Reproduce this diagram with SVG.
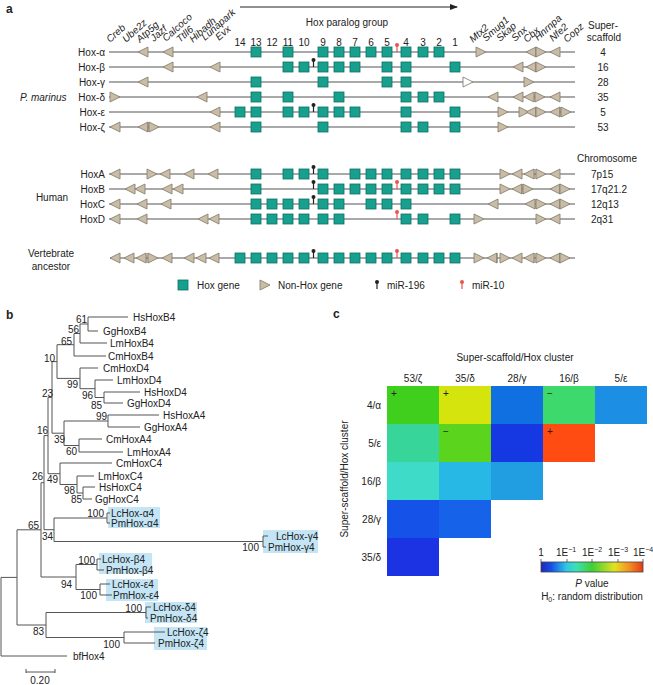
<svg xmlns="http://www.w3.org/2000/svg" xmlns:xlink="http://www.w3.org/1999/xlink" width="653" height="685" viewBox="0 0 653 685">
<style>
text{font-family:"Liberation Sans",Arial,sans-serif;font-size:10px;fill:#222}
.pl{font-weight:bold;font-size:12px}
.it{font-style:italic}
.gn{font-style:italic;font-size:10px}
.mid{text-anchor:middle}
.end{text-anchor:end}
.ln{stroke:#555;stroke-width:1.1;fill:none}
.ng{fill:#c9bda7;stroke:#8a8272;stroke-width:0.9}
.ngw{fill:#fff;stroke:#8a8272;stroke-width:0.9}
.hx{fill:#18a08f;stroke:#0e6f63;stroke-width:0.8}
.tk{stroke:#7a7368;stroke-width:0.8}
.br{stroke:#555;stroke-width:1;fill:none}
.hl{fill:#c3e5f5}
</style>
<defs>
<path id="tl" d="M-5,0 L5,-5 L5,5 Z" class="ng"/>
<path id="tr" d="M5,0 L-5,-5 L-5,5 Z" class="ng"/>
<path id="tw" d="M5,0 L-5,-5 L-5,5 Z" class="ngw"/>
<rect id="hx" x="-5" y="-5" width="10" height="10" class="hx"/>
<line id="tk" x1="0" y1="-5" x2="0" y2="5" class="tk"/>
<g id="m196"><line x1="0" y1="0" x2="0" y2="-6" stroke="#222" stroke-width="1.2"/><circle cx="0" cy="-7" r="2" fill="#222"/></g>
<g id="m10"><line x1="0" y1="0" x2="0" y2="-6" stroke="#e8554e" stroke-width="1.2"/><circle cx="0" cy="-7" r="2" fill="#e8554e"/></g>
<marker id="ah" markerWidth="8" markerHeight="8" refX="7" refY="4" orient="auto" markerUnits="userSpaceOnUse"><path d="M0,1 L8,4 L0,7 Z" fill="#222"/></marker>
<linearGradient id="jet" x1="0" x2="1" y1="0" y2="0">
<stop offset="0" stop-color="#2424b8"/><stop offset="0.1" stop-color="#1450e6"/><stop offset="0.25" stop-color="#30c8e6"/><stop offset="0.35" stop-color="#3ee0b0"/><stop offset="0.5" stop-color="#3ecf35"/><stop offset="0.72" stop-color="#e2e221"/><stop offset="0.86" stop-color="#f29322"/><stop offset="1" stop-color="#e63a18"/>
</linearGradient>
</defs>

<!-- ===== Panel a ===== -->
<text class="pl" x="6" y="13">a</text>
<g id="paralog-axis">
<line x1="240" y1="7" x2="457" y2="7" stroke="#222" stroke-width="1" marker-end="url(#ah)"/>
<text class="mid" x="347" y="26">Hox paralog group</text>
<text class="mid" x="240" y="46">14</text><text class="mid" x="256" y="46">13</text><text class="mid" x="272" y="46">12</text><text class="mid" x="288" y="46">11</text><text class="mid" x="304" y="46">10</text><text class="mid" x="323" y="46">9</text><text class="mid" x="339" y="46">8</text><text class="mid" x="355" y="46">7</text><text class="mid" x="371" y="46">6</text><text class="mid" x="387" y="46">5</text><text class="mid" x="406" y="46">4</text><text class="mid" x="423" y="46">3</text><text class="mid" x="439" y="46">2</text><text class="mid" x="455" y="46">1</text>
</g>
<g id="gene-names">
<text class="gn" transform="translate(110,43) rotate(-42)">Creb</text>
<text class="gn" transform="translate(126,43) rotate(-42)">Ube2z</text>
<text class="gn" transform="translate(140,43) rotate(-42)">Atp5g</text>
<text class="gn" transform="translate(154,42) rotate(-42)">Jazf</text>
<text class="gn" transform="translate(166,42) rotate(-42)">Calcoco</text>
<text class="gn" transform="translate(180,43) rotate(-42)">Ttll6</text>
<text class="gn" transform="translate(193,43) rotate(-42)">Hibadh</text>
<text class="gn" transform="translate(205,41) rotate(-42)">Lunapark</text>
<text class="gn" transform="translate(219,41) rotate(-42)">Evx</text>
<text class="gn" transform="translate(473,43) rotate(-42)">Mtx2</text>
<text class="gn" transform="translate(486,42) rotate(-42)">Smug1</text>
<text class="gn" transform="translate(500,42) rotate(-42)">Skap</text>
<text class="gn" transform="translate(515,42) rotate(-42)">Snx</text>
<text class="gn" transform="translate(527,43) rotate(-42)">Cbx</text>
<text class="gn" transform="translate(538,41) rotate(-42)">Hnrnpa</text>
<text class="gn" transform="translate(553,42) rotate(-42)">Nfe2</text>
<text class="gn" transform="translate(567,43) rotate(-42)">Copz</text>
<text class="mid" x="603" y="29">Super-</text>
<text class="mid" x="604" y="41">scaffold</text>
</g>
<text class="it" x="20" y="101" font-size="11">P. marinus</text>

<g id="row-hox-alpha">
<text class="end" x="105" y="56">Hox-α</text>
<line x1="109" y1="52" x2="575" y2="52" class="ln"/>
<use href="#tl" x="143" y="52"/><use href="#tl" x="168" y="52"/>
<use href="#hx" x="256" y="52"/><use href="#hx" x="288" y="52"/><use href="#hx" x="323" y="52"/><use href="#hx" x="339" y="52"/><use href="#hx" x="355" y="52"/><use href="#hx" x="371" y="52"/><use href="#hx" x="387" y="52"/><use href="#hx" x="406" y="52"/><use href="#hx" x="423" y="52"/><use href="#hx" x="439" y="52"/>
<use href="#m10" x="397" y="52"/>
<use href="#tr" x="481" y="52"/><use href="#tl" x="531" y="52"/><use href="#tk" x="536" y="52"/><use href="#tr" x="541" y="52"/><use href="#tl" x="555" y="52"/>
<text class="mid" x="603" y="56">4</text>
</g>
<g id="row-hox-beta">
<text class="end" x="105" y="71">Hox-β</text>
<line x1="109" y1="67" x2="575" y2="67" class="ln"/>
<use href="#tl" x="168" y="67"/><use href="#tl" x="215" y="67"/>
<use href="#hx" x="288" y="67"/><use href="#hx" x="304" y="67"/><use href="#hx" x="323" y="67"/><use href="#hx" x="339" y="67"/><use href="#hx" x="355" y="67"/><use href="#hx" x="387" y="67"/><use href="#hx" x="406" y="67"/><use href="#hx" x="455" y="67"/>
<use href="#m196" x="313.5" y="67"/>
<use href="#tl" x="518" y="67"/><use href="#tl" x="531" y="67"/><use href="#tk" x="536" y="67"/><use href="#tr" x="541" y="67"/>
<text class="mid" x="603" y="71">16</text>
</g>
<g id="row-hox-gamma">
<text class="end" x="105" y="86">Hox-γ</text>
<line x1="109" y1="82" x2="575" y2="82" class="ln"/>
<use href="#tl" x="143" y="82"/>
<use href="#hx" x="256" y="82"/><use href="#hx" x="323" y="82"/><use href="#hx" x="387" y="82"/><use href="#hx" x="406" y="82"/>
<use href="#tw" x="468" y="82"/><use href="#tr" x="529" y="82"/>
<text class="mid" x="603" y="86">28</text>
</g>
<g id="row-hox-delta">
<text class="end" x="105" y="101">Hox-δ</text>
<line x1="109" y1="97" x2="575" y2="97" class="ln"/>
<use href="#tr" x="115" y="97"/><use href="#tl" x="202" y="97"/>
<use href="#hx" x="256" y="97"/><use href="#hx" x="288" y="97"/><use href="#hx" x="339" y="97"/><use href="#hx" x="406" y="97"/><use href="#hx" x="423" y="97"/><use href="#hx" x="439" y="97"/>
<use href="#tl" x="493" y="97"/><use href="#tl" x="518" y="97"/><use href="#tl" x="529" y="97"/><use href="#tk" x="535" y="97"/><use href="#tr" x="540" y="97"/><use href="#tl" x="555" y="97"/>
<text class="mid" x="603" y="101">35</text>
</g>
<g id="row-hox-epsilon">
<text class="end" x="105" y="116">Hox-ε</text>
<line x1="109" y1="112" x2="575" y2="112" class="ln"/>
<use href="#tl" x="215" y="112"/>
<use href="#hx" x="240" y="112"/><use href="#hx" x="256" y="112"/><use href="#hx" x="288" y="112"/><use href="#hx" x="304" y="112"/><use href="#hx" x="323" y="112"/><use href="#hx" x="339" y="112"/><use href="#hx" x="355" y="112"/><use href="#hx" x="406" y="112"/><use href="#hx" x="455" y="112"/>
<use href="#m196" x="313.5" y="112"/>
<use href="#tr" x="503" y="112"/><use href="#tr" x="524" y="112"/><use href="#tl" x="531" y="112"/><use href="#tk" x="536" y="112"/><use href="#tr" x="541" y="112"/><use href="#tl" x="555" y="112"/><use href="#tk" x="560" y="112"/><use href="#tr" x="566" y="112"/>
<text class="mid" x="603" y="116">5</text>
</g>
<g id="row-hox-zeta">
<text class="end" x="105" y="131">Hox-ζ</text>
<line x1="109" y1="127" x2="575" y2="127" class="ln"/>
<use href="#tl" x="115" y="127"/><use href="#tl" x="143" y="127"/><use href="#tk" x="148" y="127"/><use href="#tr" x="154" y="127"/><use href="#tl" x="215" y="127"/>
<use href="#hx" x="256" y="127"/><use href="#hx" x="323" y="127"/><use href="#hx" x="406" y="127"/><use href="#hx" x="423" y="127"/><use href="#hx" x="455" y="127"/>
<use href="#tr" x="503" y="127"/>
<text class="mid" x="603" y="131">53</text>
</g>

<text class="mid" x="607" y="162">Chromosome</text>
<text class="mid" x="52" y="201" font-size="11">Human</text>
<g id="row-hoxa">
<text class="end" x="105" y="178">HoxA</text>
<line x1="109" y1="174" x2="575" y2="174" class="ln"/>
<use href="#tl" x="115" y="174"/><use href="#tr" x="152" y="174"/><use href="#tl" x="165" y="174"/><use href="#tl" x="189" y="174"/><use href="#tl" x="213" y="174"/>
<use href="#hx" x="256" y="174"/><use href="#hx" x="288" y="174"/><use href="#hx" x="304" y="174"/><use href="#hx" x="323" y="174"/><use href="#hx" x="355" y="174"/><use href="#hx" x="371" y="174"/><use href="#hx" x="387" y="174"/><use href="#hx" x="406" y="174"/><use href="#hx" x="423" y="174"/><use href="#hx" x="439" y="174"/><use href="#hx" x="455" y="174"/>
<use href="#m196" x="313.5" y="174"/>
<use href="#tr" x="505" y="174"/><use href="#tl" x="517" y="174"/><use href="#tl" x="529" y="174"/><use href="#tk" x="535" y="174"/><use href="#tr" x="541" y="174"/><use href="#tl" x="555" y="174"/>
<text x="591" y="178">7p15</text>
</g>
<g id="row-hoxb">
<text class="end" x="105" y="193">HoxB</text>
<line x1="109" y1="189" x2="575" y2="189" class="ln"/>
<use href="#tl" x="130" y="189"/><use href="#tl" x="140" y="189"/><use href="#tl" x="167" y="189"/><use href="#tl" x="178" y="189"/>
<use href="#hx" x="256" y="189"/><use href="#hx" x="323" y="189"/><use href="#hx" x="339" y="189"/><use href="#hx" x="355" y="189"/><use href="#hx" x="371" y="189"/><use href="#hx" x="387" y="189"/><use href="#hx" x="406" y="189"/><use href="#hx" x="423" y="189"/><use href="#hx" x="439" y="189"/><use href="#hx" x="455" y="189"/>
<use href="#m196" x="313.5" y="189"/><use href="#m10" x="397" y="189"/>
<use href="#tr" x="505" y="189"/><use href="#tl" x="517" y="189"/><use href="#tk" x="522" y="189"/><use href="#tr" x="528" y="189"/><use href="#tl" x="555" y="189"/><use href="#tk" x="560" y="189"/><use href="#tr" x="565" y="189"/>
<text x="591" y="193">17q21.2</text>
</g>
<g id="row-hoxc">
<text class="end" x="105" y="208">HoxC</text>
<line x1="109" y1="204" x2="575" y2="204" class="ln"/>
<use href="#tl" x="115" y="204"/><use href="#tl" x="142" y="204"/><use href="#tl" x="166" y="204"/>
<use href="#hx" x="256" y="204"/><use href="#hx" x="272" y="204"/><use href="#hx" x="288" y="204"/><use href="#hx" x="304" y="204"/><use href="#hx" x="323" y="204"/><use href="#hx" x="339" y="204"/><use href="#hx" x="371" y="204"/><use href="#hx" x="387" y="204"/><use href="#hx" x="406" y="204"/>
<use href="#m196" x="313.5" y="204"/>
<use href="#tl" x="493" y="204"/><use href="#tl" x="530" y="204"/><use href="#tk" x="536" y="204"/><use href="#tr" x="541" y="204"/><use href="#tl" x="555" y="204"/><use href="#tk" x="560" y="204"/><use href="#tr" x="565" y="204"/>
<text x="591" y="208">12q13</text>
</g>
<g id="row-hoxd">
<text class="end" x="105" y="223">HoxD</text>
<line x1="109" y1="219" x2="575" y2="219" class="ln"/>
<use href="#tl" x="115" y="219"/><use href="#tl" x="142" y="219"/><use href="#tl" x="203" y="219"/><use href="#tl" x="214" y="219"/>
<use href="#hx" x="256" y="219"/><use href="#hx" x="272" y="219"/><use href="#hx" x="288" y="219"/><use href="#hx" x="304" y="219"/><use href="#hx" x="323" y="219"/><use href="#hx" x="339" y="219"/><use href="#hx" x="406" y="219"/><use href="#hx" x="423" y="219"/><use href="#hx" x="455" y="219"/>
<use href="#m10" x="397" y="219"/>
<use href="#tr" x="479" y="219"/><use href="#tr" x="541" y="219"/><use href="#tl" x="555" y="219"/>
<text x="591" y="223">2q31</text>
</g>

<text class="mid" x="51" y="257" font-size="11">Vertebrate</text>
<text class="mid" x="51" y="270" font-size="11">ancestor</text>
<g id="row-ancestor">
<line x1="110" y1="258" x2="575" y2="258" class="ln"/>
<use href="#tl" x="115" y="258"/><use href="#tl" x="129" y="258"/><use href="#tl" x="141" y="258"/><use href="#tk" x="147" y="258"/><use href="#tr" x="153" y="258"/><use href="#tl" x="167" y="258"/><use href="#tl" x="189" y="258"/><use href="#tl" x="201" y="258"/><use href="#tl" x="214" y="258"/>
<use href="#hx" x="240" y="258"/><use href="#hx" x="256" y="258"/><use href="#hx" x="272" y="258"/><use href="#hx" x="288" y="258"/><use href="#hx" x="304" y="258"/><use href="#hx" x="323" y="258"/><use href="#hx" x="339" y="258"/><use href="#hx" x="355" y="258"/><use href="#hx" x="371" y="258"/><use href="#hx" x="387" y="258"/><use href="#hx" x="406" y="258"/><use href="#hx" x="423" y="258"/><use href="#hx" x="439" y="258"/><use href="#hx" x="455" y="258"/>
<use href="#m196" x="313.5" y="258"/><use href="#m10" x="397" y="258"/>
<use href="#tr" x="479" y="258"/><use href="#tl" x="492" y="258"/><use href="#tk" x="497" y="258"/><use href="#tr" x="505" y="258"/><use href="#tl" x="517" y="258"/><use href="#tl" x="529" y="258"/><use href="#tk" x="535" y="258"/><use href="#tr" x="541" y="258"/><use href="#tl" x="555" y="258"/><use href="#tk" x="560" y="258"/><use href="#tr" x="565" y="258"/>
</g>

<g id="legend-a">
<use href="#hx" x="183" y="285"/><text x="197" y="289">Hox gene</text>
<use href="#tr" x="265" y="285"/><text x="278" y="289">Non-Hox gene</text>
<use href="#m196" x="377" y="289"/><text x="387" y="289">miR-196</text>
<use href="#m10" x="462" y="289"/><text x="472" y="289">miR-10</text>
</g>

<!-- ===== Panel b ===== -->
<text class="pl" x="6" y="319">b</text>
<g id="highlights">
<rect class="hl" x="108" y="507" width="52" height="21"/>
<rect class="hl" x="263" y="530" width="55" height="23"/>
<rect class="hl" x="99" y="553" width="53" height="21"/>
<rect class="hl" x="106" y="579" width="52" height="22"/>
<rect class="hl" x="145" y="602" width="52" height="21"/>
<rect class="hl" x="154" y="627" width="53" height="23"/>
</g>
<g id="tree-branches" class="br">
<path d="M88,317 H128 M88,331 H98 M88,317 V331"/>
<path d="M80,324 H88 M80,343 H107 M80,324 V343"/>
<path d="M74,333.5 H80 M74,356 H106 M74,333.5 V356"/>
<path d="M104,392 H140 M104,403 H123 M104,392 V403"/>
<path d="M95,380 H113 M95,397.5 H104 M95,380 V397.5"/>
<path d="M80,368 H98 M80,388.7 H95 M80,368 V388.7"/>
<path d="M57,344.7 H74 M57,378.4 H80 M57,344.7 V378.4"/>
<path d="M108,415 H159 M108,427 H140 M108,415 V427"/>
<path d="M79,439 H102 M79,452 H123 M79,439 V452"/>
<path d="M64,421 H108 M64,445.5 H79 M64,421 V445.5"/>
<path d="M52,361.6 H57 M52,433.2 H64 M52,361.6 V433.2"/>
<path d="M83,487 H95 M83,499 H92 M83,487 V499"/>
<path d="M77,476 H94 M77,493 H83 M77,476 V493"/>
<path d="M60,463 H112 M60,484.5 H77 M60,463 V484.5"/>
<path d="M48,397.4 H52 M48,473.7 H60 M48,397.4 V473.7"/>
<path d="M107,513 H110 M107,523 H110 M107,513 V523"/>
<path d="M263,536 H268 M263,547 H266 M263,536 V547"/>
<path d="M54,518 H107 M54,541.5 H263 M54,518 V541.5"/>
<path d="M44,435.6 H48 M44,529.7 H54 M44,435.6 V529.7"/>
<path d="M97,559 H101 M97,570 H104 M97,559 V570"/>
<path d="M100,584 H110 M100,595 H112 M100,584 V595"/>
<path d="M76,564.5 H97 M76,589.5 H100 M76,564.5 V589.5"/>
<path d="M41,482.7 H44 M41,577 H76 M41,482.7 V577"/>
<path d="M146,607 H151 M146,618 H148 M146,607 V618"/>
<path d="M124,632 H165 M124,643 H155 M124,632 V643"/>
<path d="M46,612.5 H146 M46,637.5 H124 M46,612.5 V637.5"/>
<path d="M17,529.8 H41 M17,625 H46 M17,529.8 V625"/>
<path d="M1,577.4 H17 M1,656 H67 M1,577.4 V656"/>
</g>
<g id="tree-leaves">
<text x="133" y="320.5">HsHoxB4</text>
<text x="103" y="334.5">GgHoxB4</text>
<text x="110" y="346.5">LmHoxB4</text>
<text x="108" y="359.5">CmHoxB4</text>
<text x="103" y="371.5">CmHoxD4</text>
<text x="117" y="383.5">LmHoxD4</text>
<text x="144" y="395.5">HsHoxD4</text>
<text x="127" y="406.5">GgHoxD4</text>
<text x="163" y="418.5">HsHoxA4</text>
<text x="144" y="430.5">GgHoxA4</text>
<text x="106" y="442.5">CmHoxA4</text>
<text x="127" y="455.5">LmHoxA4</text>
<text x="116" y="466.5">CmHoxC4</text>
<text x="98" y="479.5">LmHoxC4</text>
<text x="99" y="490.5">HsHoxC4</text>
<text x="95" y="502.5">GgHoxC4</text>
<text x="111" y="516.5">LcHox-α4</text>
<text x="111" y="526.5">PmHox-α4</text>
<text x="276" y="539.5">LcHox-γ4</text>
<text x="268" y="550.5">PmHox-γ4</text>
<text x="102" y="562.5">LcHox-β4</text>
<text x="106" y="573.5">PmHox-β4</text>
<text x="112" y="587.5">LcHox-ε4</text>
<text x="113" y="598.5">PmHox-ε4</text>
<text x="153" y="610.5">LcHox-δ4</text>
<text x="150" y="621.5">PmHox-δ4</text>
<text x="167" y="635.5">LcHox-ζ4</text>
<text x="158" y="646.5">PmHox-ζ4</text>
<text x="73" y="659.5">bfHox4</text>
</g>
<g id="bootstrap">
<text class="end" x="87" y="322.5">61</text>
<text class="end" x="79" y="332.5">56</text>
<text class="end" x="72" y="344.5">65</text>
<text class="end" x="55" y="361.5">10</text>
<text class="end" x="78" y="387.5">99</text>
<text class="end" x="93" y="398.5">96</text>
<text class="end" x="102" y="408.5">85</text>
<text class="end" x="53" y="396.5">23</text>
<text class="end" x="107" y="419.5">99</text>
<text class="end" x="48" y="433.5">16</text>
<text class="end" x="65" y="442.5">39</text>
<text class="end" x="77" y="454.5">60</text>
<text class="end" x="43" y="479.5">26</text>
<text class="end" x="58" y="482.5">49</text>
<text class="end" x="75" y="493.5">98</text>
<text class="end" x="82" y="502.5">85</text>
<text class="end" x="104" y="516.5">100</text>
<text class="end" x="39" y="528.5">65</text>
<text class="end" x="53" y="539.5">34</text>
<text class="end" x="259" y="550.5">100</text>
<text class="end" x="95" y="563.5">100</text>
<text class="end" x="72" y="587.5">94</text>
<text class="end" x="97" y="598.5">100</text>
<text class="end" x="142" y="611.5">100</text>
<text class="end" x="44" y="634.5">83</text>
<text class="end" x="120" y="647.5">100</text>
</g>
<g id="scale-bar">
<path d="M26,669 V673 M26,672 H55 M55,669 V673" class="br"/>
<text class="mid" x="40" y="684">0.20</text>
</g>

<!-- ===== Panel c ===== -->
<text class="pl" x="333" y="318">c</text>
<text class="mid" x="515" y="361">Super-scaffold/Hox cluster</text>
<text class="mid" transform="translate(348,479) rotate(-90)">Super-scaffold/Hox cluster</text>
<g id="col-labels">
<text class="mid" x="413" y="382">53/ζ</text>
<text class="mid" x="465" y="382">35/δ</text>
<text class="mid" x="517" y="382">28/γ</text>
<text class="mid" x="569" y="382">16/β</text>
<text class="mid" x="621" y="382">5/ε</text>
</g>
<g id="row-labels">
<text class="end" x="381" y="409">4/α</text>
<text class="end" x="381" y="447">5/ε</text>
<text class="end" x="381" y="485">16/β</text>
<text class="end" x="381" y="523">28/γ</text>
<text class="end" x="381" y="561">35/δ</text>
</g>
<g id="heatmap">
<rect x="387" y="386" width="52" height="38" fill="#3fcf1c"/>
<rect x="439" y="386" width="52" height="38" fill="#d4e40c"/>
<rect x="491" y="386" width="52" height="38" fill="#1070e2"/>
<rect x="543" y="386" width="52" height="38" fill="#3ed96c"/>
<rect x="595" y="386" width="52" height="38" fill="#1c8ee4"/>
<rect x="387" y="424" width="52" height="38" fill="#38d59a"/>
<rect x="439" y="424" width="52" height="38" fill="#5bd41e"/>
<rect x="491" y="424" width="52" height="38" fill="#1538e2"/>
<rect x="543" y="424" width="52" height="38" fill="#ff4c12"/>
<rect x="387" y="462" width="52" height="38" fill="#3edcc8"/>
<rect x="439" y="462" width="52" height="38" fill="#28b8e6"/>
<rect x="491" y="462" width="52" height="38" fill="#219ee2"/>
<rect x="387" y="500" width="52" height="38" fill="#1452e8"/>
<rect x="439" y="500" width="52" height="38" fill="#1662e8"/>
<rect x="387" y="538" width="52" height="38" fill="#1b33e2"/>
<text class="mid" x="394" y="397">+</text>
<text class="mid" x="446" y="397">+</text>
<text class="mid" x="550" y="397">−</text>
<text class="mid" x="446" y="435">−</text>
<text class="mid" x="550" y="435">+</text>
</g>
<g id="colorbar">
<rect x="541" y="562" width="102" height="10" fill="url(#jet)" stroke="#444" stroke-width="0.8"/>
<path d="M541,559 V562 M567,559 V562 M592,559 V562 M618,559 V562 M643,559 V562" stroke="#444" stroke-width="0.8"/>
<text class="mid" x="541" y="556">1</text>
<text class="mid" x="566" y="556">1E<tspan dy="-4" font-size="7">−1</tspan></text>
<text class="mid" x="592" y="556">1E<tspan dy="-4" font-size="7">−2</tspan></text>
<text class="mid" x="618" y="556">1E<tspan dy="-4" font-size="7">−3</tspan></text>
<text class="mid" x="643" y="556">1E<tspan dy="-4" font-size="7">−4</tspan></text>
<text class="mid" x="592" y="587"><tspan font-style="italic">P</tspan> value</text>
<text class="mid" x="592" y="600">H<tspan dy="2" font-size="7">0</tspan><tspan dy="-2">: random distribution</tspan></text>
</g>
</svg>
